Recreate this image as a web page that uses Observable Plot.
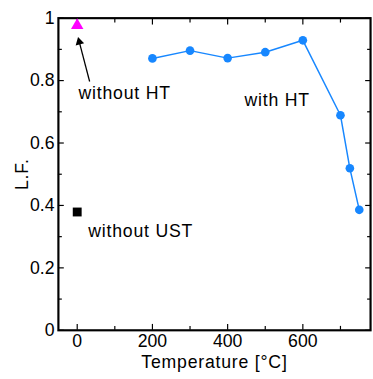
<!DOCTYPE html>
<html>
<head>
<meta charset="utf-8">
<script src="https://cdn.jsdelivr.net/npm/d3@7"></script>
<script src="https://cdn.jsdelivr.net/npm/@observablehq/plot@0.6"></script>
<style>
html, body { margin: 0; padding: 0; background: #fff; overflow: hidden; }
svg { display: block; }
#chart g[aria-label="text"] text,
#chart g[aria-label="x-axis label"] text,
#chart g[aria-label="y-axis label"] text { letter-spacing: 0.8px; }
</style>
</head>
<body>
<div id="chart"></div>
<script>
// Series "with HT"
const temps = [200, 300, 400, 500, 600, 700, 725, 750];
const lfWithHT = [0.871, 0.896, 0.872, 0.891, 0.929, 0.689, 0.519, 0.386];

// Single points
const withoutHT = [{x: 0, y: 0.977}];
const withoutUST = [{x: 0, y: 0.379}];

// Ticks
const xMajor = [0, 200, 400, 600];
const xMinor = [100, 300, 500, 700];
const yMajor = [0, 0.2, 0.4, 0.6, 0.8, 1];
const yMinor = [0.1, 0.3, 0.5, 0.7, 0.9];

// Annotations
const annText = ["without HT", "with HT", "without UST"];
const annX = [3.5, 445, 29.5];
const annY = [0.741, 0.718, 0.298];

// Arrow (tail -> head)
const arrowTail = {x: 33, y: 0.797};
const arrowHead = {x: 5.5, y: 0.924};

const blue = "#1787ff";
const series = temps.map((t, i) => ({t, v: lfWithHT[i]}));
const anns = annText.map((s, i) => ({s, x: annX[i], y: annY[i]}));

const hide = () => "";

const chart = Plot.plot({
  width: 380,
  height: 379,
  marginLeft: 59,
  marginRight: 3,
  marginTop: 18,
  marginBottom: 43,
  style: {fontFamily: "'Liberation Sans', Arial, sans-serif", fontSize: "18px", background: "#fff", color: "#000"},
  x: {domain: [-50, 780]},
  y: {domain: [0, 1]},
  marks: [
    // bottom axis
    Plot.axisX({anchor: "bottom", ticks: xMajor, tickSize: -6, tickPadding: 10, tickFormat: d => String(d), strokeWidth: 1.2,
      label: "Temperature [°C]", labelAnchor: "center", labelOffset: 38, labelArrow: "none"}),
    Plot.axisX({anchor: "bottom", ticks: xMinor, tickSize: -4, tickFormat: hide, label: null, strokeWidth: 1.2}),
    // top axis
    Plot.axisX({anchor: "top", ticks: xMajor, tickSize: -6, tickFormat: hide, label: null, strokeWidth: 1.2}),
    Plot.axisX({anchor: "top", ticks: xMinor, tickSize: -4, tickFormat: hide, label: null, strokeWidth: 1.2}),
    // left axis
    Plot.axisY({anchor: "left", ticks: yMajor, tickSize: -6, tickPadding: 10, tickFormat: d => String(d), strokeWidth: 1.2,
      label: "L.F.", labelAnchor: "center", labelOffset: 44, labelArrow: "none"}),
    Plot.axisY({anchor: "left", ticks: yMinor, tickSize: -4, tickFormat: hide, label: null, strokeWidth: 1.2}),
    // right axis
    Plot.axisY({anchor: "right", ticks: yMajor, tickSize: -6, tickFormat: hide, label: null, strokeWidth: 1.2}),
    Plot.axisY({anchor: "right", ticks: yMinor, tickSize: -4, tickFormat: hide, label: null, strokeWidth: 1.2}),
    Plot.frame({stroke: "#000", strokeWidth: 2.2}),
    // series
    Plot.line(series, {x: "t", y: "v", stroke: blue, strokeWidth: 1.5}),
    Plot.dot(series, {x: "t", y: "v", r: 4.4, fill: blue}),
    Plot.dot(withoutHT, {x: "x", y: "y", symbol: "triangle", r: 4.7, fill: "#ff00ff"}),
    Plot.dot(withoutUST, {x: "x", y: "y", symbol: "square", r: 5.1, fill: "#000"}),
    // arrow
    Plot.link([{}], {x1: () => arrowTail.x, y1: () => arrowTail.y, x2: () => arrowHead.x, y2: () => arrowHead.y, stroke: "#000", strokeWidth: 1.3}),
    Plot.dot([arrowHead], {x: "x", y: "y", symbol: "triangle", r: 3.3, fill: "#000", rotate: -14}),
    // annotations
    Plot.text(anns, {x: "x", y: "y", text: "s", textAnchor: "start", lineAnchor: "bottom", fill: "#000", fontSize: 18})
  ]
});
document.getElementById("chart").appendChild(chart);
</script>
</body>
</html>
